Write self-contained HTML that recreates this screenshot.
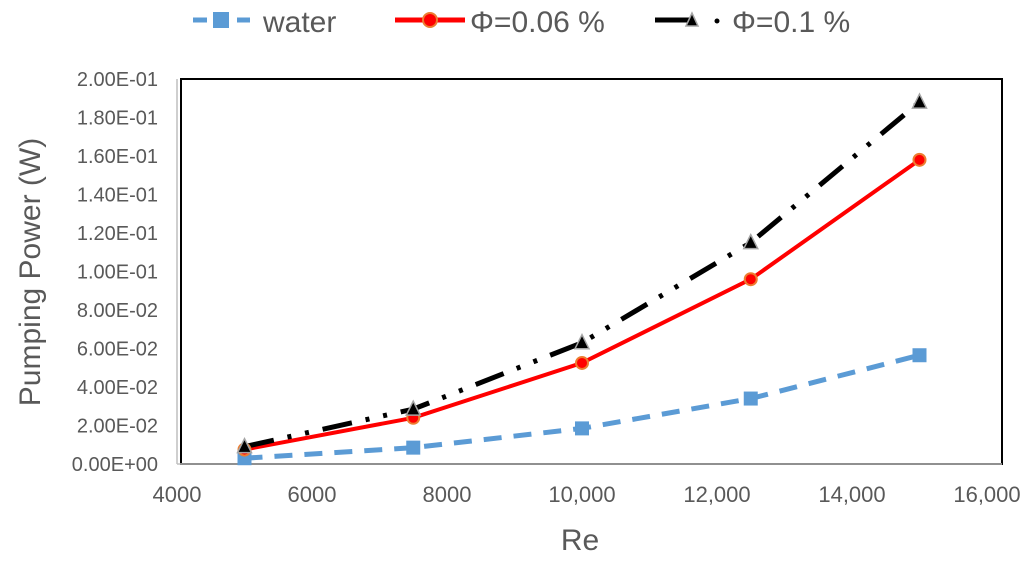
<!DOCTYPE html>
<html><head><meta charset="utf-8"><style>
body{margin:0;background:#fff;font-family:"Liberation Sans",sans-serif;}
svg text{font-family:"Liberation Sans",sans-serif;fill:#595959;}
</style></head><body>
<svg id="chart" width="1024" height="556" xmlns="http://www.w3.org/2000/svg">
<g id="legend">
 <g>
  <line x1="193" y1="20" x2="250" y2="20" stroke="#5b9bd5" stroke-width="5" stroke-dasharray="14,8"/>
  <rect x="213" y="12" width="16" height="16" fill="#5b9bd5"/>
  <text x="263" y="32" font-size="30">water</text>
 </g>
 <g>
  <line x1="395" y1="20" x2="465" y2="20" stroke="#ff0000" stroke-width="5"/>
  <circle cx="430" cy="20" r="7" fill="#ff0000" stroke="#ed7d31" stroke-width="2"/>
  <text x="470" y="32" font-size="30">Φ=0.06 %</text>
 </g>
 <g>
  <line x1="655" y1="20" x2="690" y2="20" stroke="#000" stroke-width="5"/>
  <circle cx="717" cy="21" r="2.5" fill="#000"/>
  <polygon points="692,13 686,26 698,26" fill="#000" stroke="#a5a5a5" stroke-width="1.5"/>
  <text x="732" y="32" font-size="30">Φ=0.1 %</text>
 </g>
</g>
<rect x="181" y="79" width="821" height="385" fill="none" stroke="#000" stroke-width="2"/>
<g id="axes"></g>
<g id="series"></g>
<text x="580" y="550" font-size="30" text-anchor="middle">Re</text>
<text transform="translate(40,272) rotate(-90)" font-size="30" text-anchor="middle">Pumping Power (W)</text>
</svg>
<script>
const xTicks=[4000,6000,8000,10000,12000,14000,16000];
const xTickLabels=["4000","6000","8000","10,000","12,000","14,000","16,000"];
const yTicks=[0,0.02,0.04,0.06,0.08,0.1,0.12,0.14,0.16,0.18,0.2];
const yTickLabels=["0.00E+00","2.00E-02","4.00E-02","6.00E-02","8.00E-02","1.00E-01","1.20E-01","1.40E-01","1.60E-01","1.80E-01","2.00E-01"];
const reValues=[5000,7500,10000,12500,15000];
const water=[0.003,0.0085,0.0185,0.034,0.0565];
const phi006=[0.0075,0.024,0.0525,0.096,0.158];
const phi01=[0.009,0.0285,0.063,0.115,0.188];
const NS="http://www.w3.org/2000/svg";
const X=v=>177+(v-4000)/12000*810;
const Y=v=>464-v/0.2*385;
function mk(tag,attrs,parent){const e=document.createElementNS(NS,tag);for(const k in attrs)e.setAttribute(k,attrs[k]);parent.appendChild(e);return e;}
const axes=document.getElementById('axes'),ser=document.getElementById('series');
const yl=mk('line',{x1:177,y1:79,x2:177,y2:464,stroke:'#bfbfbf','stroke-width':1.5},axes);


const xl=mk('line',{x1:177,y1:464,x2:1002,y2:464,stroke:'#bfbfbf','stroke-width':1.5},axes);


xTicks.forEach((t,i)=>{const e=mk('text',{x:X(t),y:502,'font-size':22,'text-anchor':'middle'},axes);e.textContent=xTickLabels[i];

});
yTicks.forEach((t,i)=>{const e=mk('text',{x:158,y:Y(t)+7,'font-size':20,'text-anchor':'end'},axes);e.textContent=yTickLabels[i];

});
function pts(arr){return reValues.map((r,i)=>X(r)+','+Y(arr[i])).join(' ');}
let l=mk('polyline',{points:pts(water),fill:'none',stroke:'#5b9bd5','stroke-width':5,'stroke-dasharray':'18,12'},ser);


l=mk('polyline',{points:pts(phi006),fill:'none',stroke:'#ff0000','stroke-width':4},ser);


l=mk('polyline',{points:pts(phi01),fill:'none',stroke:'#000','stroke-width':5,'stroke-dasharray':'30,14,4,14,4,14'},ser);


reValues.forEach((r,i)=>{
 const s=mk('rect',{x:X(r)-7,y:Y(water[i])-7,width:14,height:14,fill:'#5b9bd5'},ser);
 
 
 const c=mk('circle',{cx:X(r),cy:Y(phi006[i]),r:6,fill:'#ff0000',stroke:'#ed7d31','stroke-width':2},ser);
 
 
 const x=X(r),y=Y(phi01[i]);
 const p=mk('polygon',{points:`${x},${y-8} ${x-7},${y+6} ${x+7},${y+6}`,fill:'#000',stroke:'#a5a5a5','stroke-width':1.5},ser);
 
 
});
</script>
</body></html>
